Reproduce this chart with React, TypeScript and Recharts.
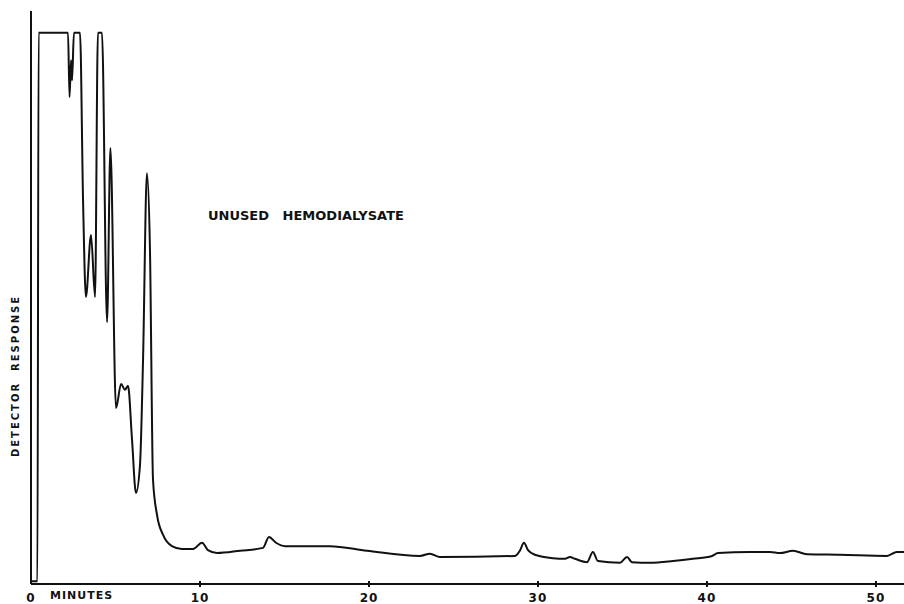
import { LineChart, Line, XAxis, YAxis } from "recharts";

// retention time (minutes) and detector response (% of full scale)
const minutes = [
  0, 0.38, 0.45, 2.19, 2.28, 2.37, 2.43, 2.54, 2.9, 3.08, 3.25, 3.55, 3.79, 3.96,
  4.2, 4.5, 4.7, 5.03, 5.33, 5.56, 5.74, 5.98, 6.21, 6.45, 6.63, 6.86, 7.04,
  7.22, 7.46, 7.81, 8.34, 8.93, 9.59, 10.12, 10.47, 11.01, 12.37, 13.73, 14.08,
  14.5, 15.03, 17.69, 19.88, 23.02, 23.61, 24.2, 28.64, 28.93, 29.17, 29.41,
  29.82, 30.89, 31.6, 31.89, 32.19, 32.9, 33.25, 33.55, 34.85, 35.27, 35.56,
  36.63, 37.99, 39.17, 40.3, 40.65, 42.54, 43.73, 44.32, 45.09, 45.92, 47.87,
  50.65, 51.24, 51.66,
];
const response = [
  0.5, 0.5, 96.2, 96.2, 85.0, 91.4, 87.9, 96.2, 96.2, 67.0, 50.1, 60.9, 50.1,
  96.2, 96.2, 45.7, 76.1, 30.7, 34.9, 33.9, 34.6, 25.1, 15.9, 20.8, 39.1, 71.7,
  58.3, 18.2, 12.0, 8.6, 6.6, 6.1, 6.1, 7.2, 5.9, 5.4, 5.8, 6.3, 8.2, 7.2, 6.6,
  6.6, 5.8, 4.9, 5.3, 4.7, 4.9, 5.8, 7.2, 5.9, 5.1, 4.5, 4.4, 4.7, 4.4, 3.8,
  5.6, 4.0, 3.7, 4.7, 3.8, 3.7, 4.0, 4.4, 4.9, 5.4, 5.6, 5.6, 5.4, 5.8, 5.2,
  5.1, 4.9, 5.6, 5.6,
];
const minuteTicks = [0, 10, 20, 30, 40, 50];

const data = minutes.map((t, i) => ({ t, r: response[i] }));

const INK = "#111";
const FONT = "'DejaVu Sans', sans-serif";

function MinuteTick(props: any) {
  const { x, y, payload } = props;
  return (
    <g>
      {payload.value !== 0 && (
        <line x1={x} x2={x} y1={y - 3} y2={y + 3} stroke={INK} strokeWidth={2} />
      )}
      <text
        x={payload.value === 0 ? x : x}
        y={y + 18}
        textAnchor="middle"
        fill={INK}
        fontFamily={FONT}
        fontWeight="bold"
        fontSize={12}
        letterSpacing={1}
      >
        {payload.value}
      </text>
    </g>
  );
}

export default function App() {
  return (
    <div
      style={{
        position: "absolute",
        left: 0,
        top: 0,
        width: 904,
        height: 604,
        background: "#fff",
      }}
    >
      <LineChart
        width={904}
        height={604}
        data={data}
        margin={{ top: 11, right: 0, bottom: 0, left: 30 }}
      >
        <XAxis
          dataKey="t"
          type="number"
          domain={[0, 51.66]}
          ticks={minuteTicks}
          height={20}
          tickSize={0}
          tickMargin={0}
          tick={<MinuteTick />}
          axisLine={{ stroke: INK, strokeWidth: 2 }}
          allowDataOverflow
        />
        <YAxis
          domain={[0, 100]}
          width={1}
          tick={false}
          tickLine={false}
          axisLine={{ stroke: INK, strokeWidth: 2 }}
        />
        <Line
          type="monotone"
          dataKey="r"
          stroke={INK}
          strokeWidth={2}
          dot={false}
          isAnimationActive={false}
        />
      </LineChart>
      <div
        style={{
          position: "absolute",
          left: 50,
          top: 589,
          fontFamily: FONT,
          fontWeight: "bold",
          fontSize: 11,
          letterSpacing: 1,
          color: INK,
        }}
      >
        MINUTES
      </div>
      <div
        style={{
          position: "absolute",
          left: 15,
          top: 376,
          transform: "translate(-50%, -50%) rotate(-90deg)",
          fontFamily: FONT,
          fontWeight: "bold",
          fontSize: 10,
          letterSpacing: 2,
          whiteSpace: "nowrap",
          color: INK,
        }}
      >
        DETECTOR&nbsp;&nbsp;RESPONSE
      </div>
      <div
        style={{
          position: "absolute",
          left: 208,
          top: 208,
          fontFamily: FONT,
          fontWeight: "bold",
          fontSize: 13,
          whiteSpace: "pre",
          color: INK,
        }}
      >
        {"UNUSED   HEMODIALYSATE"}
      </div>
    </div>
  );
}
